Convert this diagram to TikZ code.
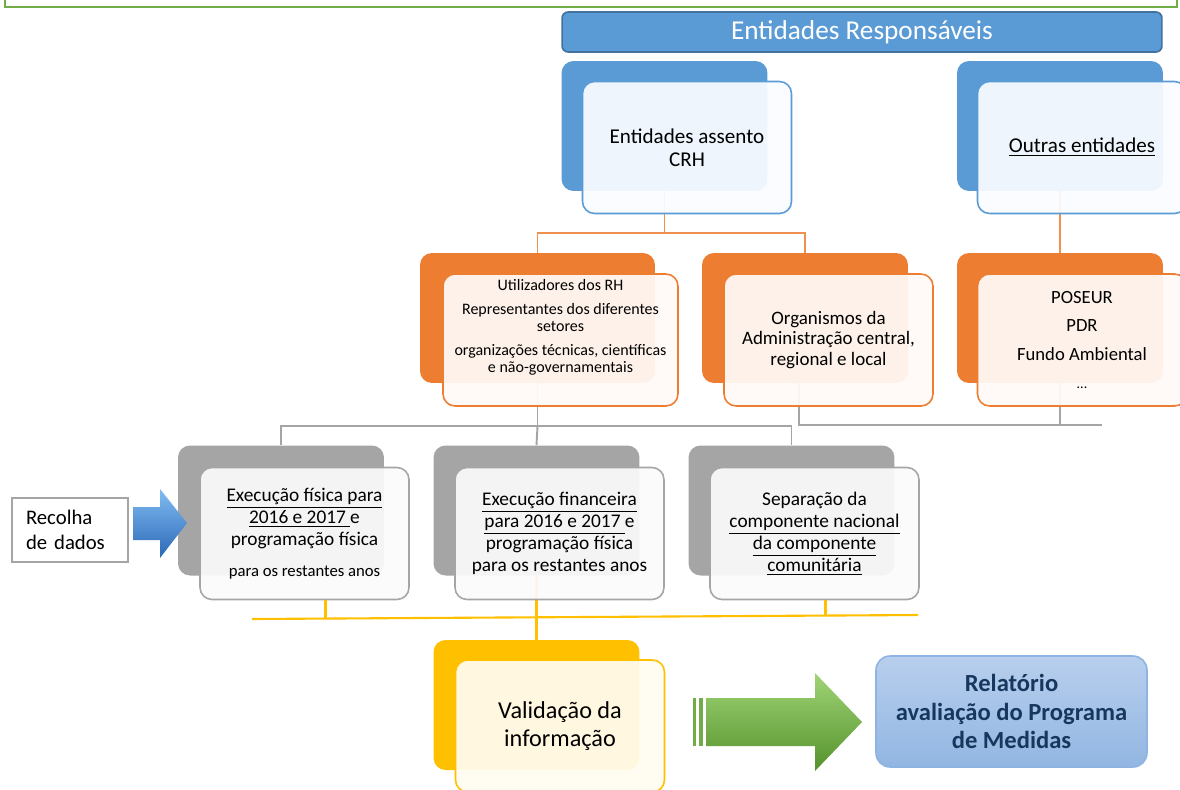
\documentclass[tikz,border=0pt]{standalone}
\usepackage{fontspec}
\setmainfont{Carlito}
\usetikzlibrary{positioning}
\definecolor{accblue}{RGB}{91,155,213}
\definecolor{accbluedark}{RGB}{65,113,156}
\definecolor{accbluelight}{RGB}{250,252,255}
\definecolor{accorange}{RGB}{237,125,49}
\definecolor{accorangelight}{RGB}{255,250,247}
\definecolor{accgray}{RGB}{165,165,165}
\definecolor{accgraylight}{RGB}{251,251,251}
\definecolor{accgold}{RGB}{255,192,0}
\definecolor{accgoldlight}{RGB}{255,252,240}
\definecolor{accgreen}{RGB}{112,173,71}
\definecolor{arrgreentop}{RGB}{160,212,118}
\definecolor{arrgreenbot}{RGB}{84,146,44}
\definecolor{arrbluetop}{RGB}{130,188,242}
\definecolor{arrbluebot}{RGB}{42,104,182}
\definecolor{repfilltop}{RGB}{184,207,237}
\definecolor{repfillbot}{RGB}{146,182,226}
\definecolor{repborder}{RGB}{141,180,226}
\definecolor{reptext}{RGB}{23,55,94}
\tikzset{
  backbox/.style={rounded corners=0.24cm, minimum width=4.12cm, minimum height=2.6cm, inner sep=0pt},
  frontbox/.style={rounded corners=0.24cm, minimum width=4.18cm, minimum height=2.64cm, inner sep=0pt,
    line width=0.9pt, fill opacity=0.93, text opacity=1, align=center},
  orangeline/.style={draw=accorange!85, line width=1.1pt},
  grayline/.style={draw=accgray, line width=1.1pt},
  goldline/.style={draw=accgold, line width=1.2pt},
}
\begin{document}
\begin{tikzpicture}[x=0.02cm, y=-0.02cm]
  \useasboundingbox[fill=white] (0,0) rectangle (1180,789);
  \draw[accgreen, line width=0.9pt] (5,-3) -- (5,7) -- (1177,7) -- (1177,-3);
  \node[rounded corners=0.12cm, fill=accblue, draw=accbluedark, line width=0.9pt, minimum width=12cm, minimum height=0.8cm,
    text=white, font=\fontsize{15.5}{17}\selectfont] (title) at (862,32) {Entidades Responsáveis};

  \node[backbox, fill=accblue] (crhB) at (664.5,126) {};
  \node[backbox, fill=accblue] (outB) at (1060,126) {};
  \node[backbox, fill=accorange, minimum width=4.7cm] (utilB) at (537.5,318) {};
  \node[backbox, fill=accorange] (orgB) at (805,318) {};
  \node[backbox, fill=accorange] (posB) at (1060,318) {};
  \node[backbox, fill=accgray] (exfB) at (281,510.5) {};
  \node[backbox, fill=accgray] (finB) at (536.5,510.5) {};
  \node[backbox, fill=accgray] (sepB) at (791.5,510.5) {};
  \node[backbox, fill=accgold] (valB) at (536.5,705) {};

  \draw[orangeline] (crhB.south) -- ++(0,42) coordinate (crhJ);
  \draw[orangeline] (utilB.north) |- (crhJ) -| (orgB.north);
  \draw[orangeline] (outB.south) -- (posB.north);
  \draw[grayline] (utilB.south) -- ++(0,43) coordinate (utilJ);
  \draw[grayline] (exfB.north) |- (utilJ) -| (sepB.north);
  \draw[grayline] (utilJ) -- (finB.north);
  \coordinate (grayEnd) at (1102,425);
  \draw[grayline] ([xshift=-0.12cm]orgB.south) |- (grayEnd);
  \draw[grayline] (posB.south) -- (posB.south |- grayEnd);
  \coordinate (goldL) at (252,619);
  \coordinate (goldR) at (918,615);
  \draw[goldline] (goldL) -- (goldR);
  \draw[goldline] (finB.south) -- (valB.north);

  \node[frontbox, fill=accbluelight, draw=accblue, font=\fontsize{12}{13}\selectfont] (crhF) at (687,147.5)
    {Entidades assento\\CRH};
  \node[frontbox, fill=accbluelight, draw=accblue, font=\fontsize{12}{13}\selectfont] (outF) at (1082,147.5)
    {\underline{Outras entidades}};
  \node[frontbox, fill=accorangelight, draw=accorange, minimum width=4.7cm] (utilF) at (560.5,340) {};
  \node[align=center, font=\fontsize{9.1}{9.7}\selectfont] (utilT) at ([yshift=0.26cm]utilF.center)
    {Utilizadores dos RH\\[4pt]Representantes dos diferentes\\setores\\[4pt]organizações técnicas, científicas\\e não-governamentais};
  \node[frontbox, fill=accorangelight, draw=accorange, font=\fontsize{10.8}{11.6}\selectfont] (orgF) at (828.5,340)
    {Organismos da\\Administração central,\\regional e local};
  \node[frontbox, fill=accorangelight, draw=accorange, font=\fontsize{10.6}{16}\selectfont] (posF) at (1082,340)
    {POSEUR\\PDR\\Fundo Ambiental\\{\fontsize{8}{16}\selectfont...}};
  \node[frontbox, fill=accgraylight, draw=accgray, font=\fontsize{11}{12.5}\selectfont] (exfF) at (304.5,533.5)
    {\underline{Execução física para}\\\underline{2016 e 2017\ }e\\programação física\\[5pt]{\fontsize{9.5}{12.5}\selectfont para os restantes anos}};
  \node[frontbox, fill=accgraylight, draw=accgray, font=\fontsize{11}{12.5}\selectfont] (finF) at (559.5,533.5)
    {\underline{Execução financeira}\\\underline{para 2016 e 2017\ }e\\programação física\\para os restantes anos};
  \node[frontbox, fill=accgraylight, draw=accgray, font=\fontsize{11}{12.5}\selectfont] (sepF) at (814.5,533.5)
    {Separação da\\\underline{componente nacional}\\\underline{da componente}\\\underline{comunitária}};
  \draw[goldline] ([xshift=0.42cm]exfF.south) -- ++(0,18);
  \draw[goldline] ([xshift=0.22cm]sepF.south) -- ++(0,15);
  \node[frontbox, fill=accgoldlight, draw=accgold, font=\fontsize{13.8}{15.9}\selectfont] (valF) at (560,726)
    {Validação da\\informação};

  \node[draw=accgray, line width=0.9pt, minimum height=1.28cm, inner xsep=0.28cm, text width=1.76cm, align=left,
    font=\fontsize{11.8}{14.2}\selectfont] (recolha) at (70,530) {Recolha\\de dados};
  \shade[top color=arrbluetop, bottom color=arrbluebot] (133,507) -- (160,507) -- (160,489) -- (187,523)
    -- (160,558) -- (160,540) -- (133,540) -- cycle;

  \fill[accgreen] (693,698) rectangle (696,746);
  \fill[accgreen] (699,698) rectangle (703,746);
  \shade[top color=arrgreentop, bottom color=arrgreenbot] (706,698) -- (815,698) -- (815,673) -- (862,722)
    -- (815,771) -- (815,746) -- (706,746) -- cycle;

  \node[rounded corners=0.28cm, top color=repfilltop, bottom color=repfillbot, draw=repborder, line width=0.9pt,
    minimum width=5.42cm, minimum height=2.22cm, align=center, text=reptext,
    font=\bfseries\fontsize{14}{16.4}\selectfont] (relatorio) at (1011.5,711.5)
    {Relatório\\avaliação do Programa\\de Medidas};
\end{tikzpicture}
\end{document}
